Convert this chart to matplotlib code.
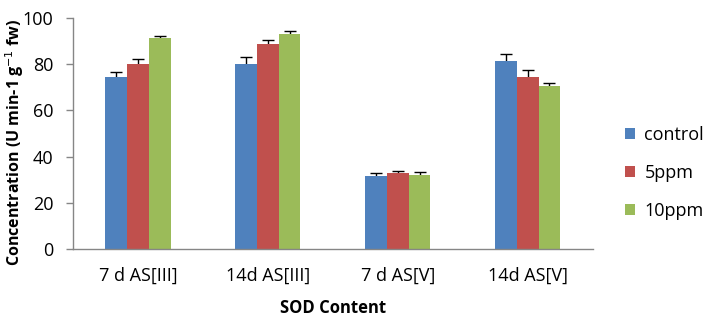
import numpy as np
import matplotlib.pyplot as plt

plt.rcParams['font.family'] = ['Open Sans', 'DejaVu Sans']

categories = ['7 d AS[III]', '14d AS[III]', '7 d AS[V]', '14d AS[V]']
series = ['control', '5ppm', '10ppm']
control = [74.6, 80.2, 31.8, 81.5]
ppm5 = [80.2, 88.9, 32.9, 74.6]
ppm10 = [91.5, 93.2, 32.2, 70.7]
control_err = [2.0, 2.9, 1.0, 3.0]
ppm5_err = [2.0, 1.6, 0.8, 2.9]
ppm10_err = [0.8, 1.2, 1.0, 1.1]

colors = ['#4F81BD', '#C0504D', '#9BBB59']


def main():
    fig = plt.figure(figsize=(7.09, 3.18), dpi=100)
    ax = fig.add_axes([0.103, 0.217, 0.733, 0.726])

    x = np.arange(len(categories))
    width = 0.167
    values = [control, ppm5, ppm10]
    errs = [control_err, ppm5_err, ppm10_err]
    for i in range(3):
        pos = x + (i - 1) * width
        # symmetric error bars drawn behind the bars, so only the upper half shows
        ax.errorbar(pos, values[i], yerr=errs[i], fmt='none', ecolor='black',
                    elinewidth=1, capsize=4, capthick=1, zorder=1)
        ax.bar(pos, values[i], width, color=colors[i], label=series[i], zorder=2)

    ax.set_xlim(-0.5, 3.5)
    ax.set_ylim(0, 100)
    ax.set_yticks([0, 20, 40, 60, 80, 100])
    ax.set_xticks(x)
    ax.set_xticklabels(categories)
    ax.tick_params(axis='x', length=0, pad=13, labelsize=13, colors='black')
    ax.tick_params(axis='y', length=5, width=1, color='#868686', labelsize=13, pad=9)

    for s in ['top', 'right']:
        ax.spines[s].set_visible(False)
    for s in ['left', 'bottom']:
        ax.spines[s].set_color('#868686')
        ax.spines[s].set_linewidth(1)
        ax.spines[s].set_zorder(3)

    ax.set_xlabel('SOD Content', fontsize=12, fontweight='bold', labelpad=10)
    ax.set_ylabel('Concentration (U min-1 g$^{-1}$ fw)', fontsize=11.5, fontweight='bold')
    ax.yaxis.set_label_coords(-0.09, 0.46)

    ax.legend(loc='center left', bbox_to_anchor=(1.03, 0.33), frameon=False, fontsize=13,
              handlelength=0.6, handleheight=0.6, labelspacing=1.1, handletextpad=0.5)

    fig.savefig('out.png', dpi=100)


if __name__ == '__main__':
    main()
